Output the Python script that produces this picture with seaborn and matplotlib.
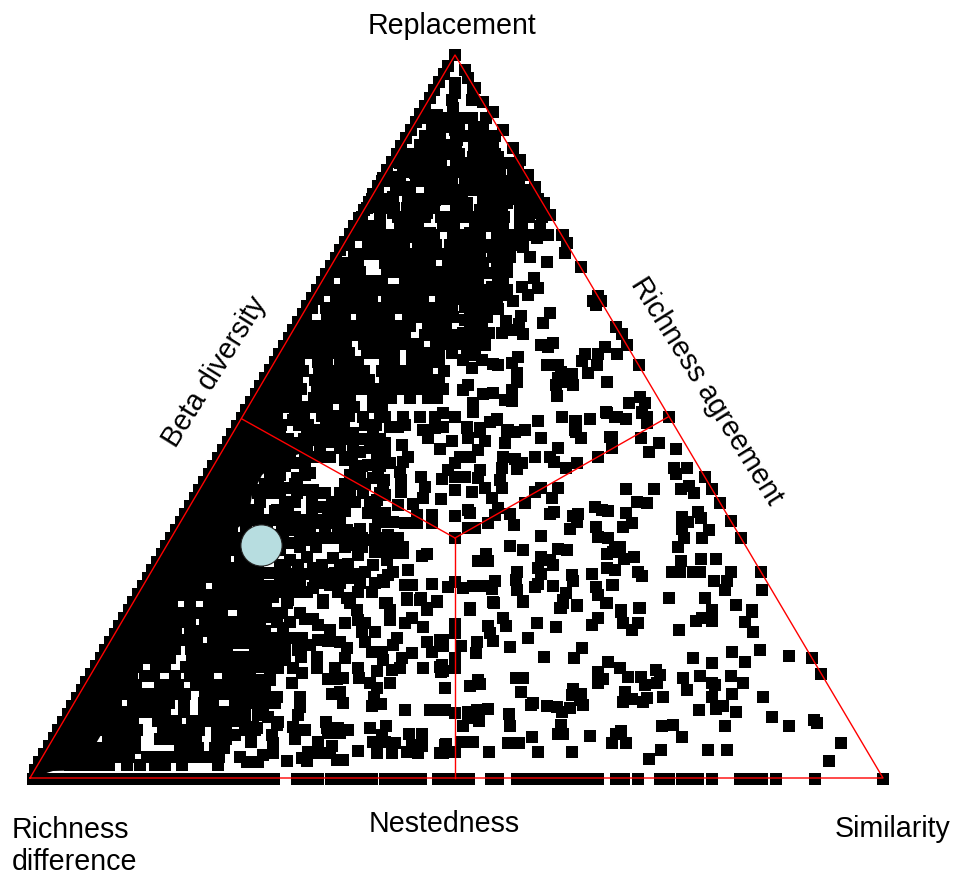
# ternary plot of beta diversity components
import numpy as np
import pandas as pd
import matplotlib
matplotlib.use('Agg')
import matplotlib.pyplot as plt
import seaborn as sns

# triangle outline and the three dividers, in picture units
outline_x = [30, 883, 455, 30]
outline_y = [778, 778, 55, 778]
centre = (455, 538)
edge_mid_x = [242, 668, 455]
edge_mid_y = [419, 417, 778]

# the merged black part next to the left edge
wedge_x = [30, 53, 85, 95, 113, 125, 138, 150, 165, 182, 200, 215, 235, 248, 252, 262, 280, 312, 240]
wedge_y = [778, 771, 770, 745, 715, 690, 665, 640, 610, 590, 562, 545, 530, 520, 495, 475, 460, 450, 418]

# points sitting on the left edge
left_edge_y = [770, 762, 754, 746, 738, 730, 722, 714, 706, 698, 690, 682, 674, 666, 658, 650, 642, 634, 626, 618,
               610, 602, 594, 586, 578, 570, 562, 554, 546, 538, 530, 522, 514, 506, 498, 490, 482, 474, 466, 458,
               450, 442, 434, 426, 418, 410, 402, 394, 386, 378, 370, 362, 354, 346, 338, 330, 322, 314, 306, 298,
               290, 282, 274, 266, 258, 250, 242, 234, 226, 218, 210, 202, 194, 186, 178, 170, 162, 154, 146, 138,
               130, 122, 114, 106, 98, 90, 82, 74, 66, 55]
left_edge_x = [35, 39, 44, 49, 54, 58, 63, 68, 72, 77, 82, 86, 91, 96, 101, 105, 110, 115, 119, 124,
               129, 133, 138, 143, 148, 152, 157, 162, 166, 171, 176, 181, 185, 190, 195, 199, 204, 209, 213, 218,
               223, 228, 232, 237, 242, 246, 251, 256, 260, 265, 270, 275, 279, 284, 289, 293, 298, 303, 307, 312,
               317, 322, 326, 331, 336, 340, 345, 350, 354, 359, 364, 369, 373, 378, 383, 387, 392, 397, 401, 406,
               411, 416, 420, 425, 430, 434, 439, 444, 448, 455]

# points sitting on the bottom edge
bottom_x = [33, 42, 51, 60, 69, 78, 87, 96, 105, 114, 123, 132, 141, 150, 159, 168, 177, 186, 195, 204, 213, 220,
            232, 241, 250, 259, 268, 274, 297, 306, 318, 331, 340, 349, 358, 367, 372, 385, 394, 403, 412, 421,
            438, 447, 456, 465, 469, 491, 498, 517, 526, 535, 544, 553, 562, 571, 580, 589, 598, 616, 624, 638,
            660, 669, 682, 691, 698, 712, 740, 749, 758, 762, 776, 815, 883]

# dense parts, read row by row
top_rows_y = [118, 127, 136, 145, 154, 163, 172, 181, 190, 199, 208, 217, 226, 235]
top_rows_x = [
    [427, 436, 445, 454, 463, 472, 486],
    [432, 441, 450, 459, 474, 483],
    [425, 434, 456, 465, 474, 483, 495],
    [420, 429, 438, 447, 456, 474, 483, 492],
    [405, 414, 423, 432, 441, 450, 459, 477, 486, 495],
    [400, 409, 418, 432, 441, 456, 465, 474, 483, 492, 501, 510],
    [403, 416, 425, 434, 443, 455, 464, 473, 482, 491, 500, 518],
    [382, 391, 400, 416, 425, 434, 443, 452, 465, 474, 483, 492, 501, 510, 519],
    [378, 396, 405, 430, 439, 448, 457, 466, 481, 490, 499, 508, 517, 526],
    [372, 381, 390, 408, 417, 426, 435, 444, 453, 462, 484, 493, 502, 511, 520, 529, 538],
    [367, 385, 394, 407, 416, 425, 434, 456, 465, 484, 493, 502, 526, 535, 544],
    [362, 380, 398, 407, 416, 425, 441, 450, 459, 468, 477, 486, 495, 504, 520, 529, 542],
    [357, 366, 375, 400, 409, 418, 445, 454, 475, 484, 493, 502, 520, 540],
    [352, 361, 370, 379, 388, 397, 406, 425, 434, 453, 462, 471, 480, 498, 507, 516, 525, 534],
]
upper_rows_y = [245, 254, 263, 272, 281, 290, 299, 308, 317, 326, 335, 344, 353, 362, 371, 380, 389, 398, 407, 416, 425]
upper_rows_x = [
    [349, 368, 377, 386, 395, 404, 418, 427, 436, 450, 459, 468, 477, 486, 495, 504, 513],
    [354, 363, 372, 381, 390, 399, 408, 417, 426, 435, 444, 453, 462, 480, 499],
    [340, 349, 358, 385, 394, 403, 412, 421, 430, 448, 457, 474, 483, 498],
    [333, 342, 351, 360, 387, 396, 405, 414, 423, 432, 441, 450, 459, 468, 477, 497, 507],
    [328, 346, 355, 364, 373, 382, 405, 414, 423, 432, 441, 450, 459, 468, 478, 498],
    [322, 331, 340, 349, 358, 367, 376, 385, 394, 403, 412, 421, 430, 439, 448, 457, 465, 482, 498, 507],
    [318, 336, 345, 354, 363, 372, 387, 396, 405, 414, 423, 441, 450, 459, 470, 488, 497],
    [312, 326, 335, 344, 353, 362, 371, 380, 389, 398, 407, 416, 425, 434, 443, 452, 470, 487],
    [306, 327, 336, 345, 362, 371, 380, 389, 408, 417, 426, 435, 444, 453, 470, 478],
    [302, 311, 320, 329, 338, 347, 356, 365, 374, 383, 392, 401, 410, 428, 437, 446, 470, 478],
    [297, 306, 315, 324, 333, 342, 351, 360, 369, 378, 387, 396, 405, 425, 434, 443, 452, 470, 478],
    [292, 301, 310, 319, 328, 337, 346, 364, 373, 382, 391, 400, 409, 418, 436, 445, 454, 465, 474],
    [286, 295, 304, 313, 322, 331, 340, 349, 367, 376, 385, 394, 412, 421, 430, 439, 452],
    [281, 290, 299, 318, 327, 340, 349, 358, 385, 394, 412, 421, 430, 439],
    [276, 285, 294, 303, 319, 328, 337, 346, 355, 364, 382, 391, 400, 409, 418, 427, 444],
    [270, 279, 288, 297, 315, 324, 333, 342, 351, 360, 369, 385, 394, 403, 412, 421, 430, 439],
    [265, 274, 283, 292, 301, 317, 326, 335, 344, 353, 362, 371, 380, 389, 398, 407, 416, 425, 434, 443],
    [260, 269, 278, 287, 296, 314, 323, 332, 341, 350, 373, 382, 391, 410, 428, 437],
    [255, 264, 273, 282, 291, 300, 309, 318, 327, 345, 354, 373, 382],
    [250, 259, 268, 277, 295, 304, 322, 331, 340, 349, 380],
    [245, 254, 263, 272, 281, 299, 308, 326, 335, 344, 365, 376],
]
circle_rows_y = [430, 439, 448, 457, 466, 475, 484, 493, 502, 511, 520, 529, 538, 547, 565, 574, 583, 592]
circle_rows_x = [
    [262, 271, 280, 316, 325, 334, 343],
    [270, 279, 288, 304, 322, 342, 362, 371, 380],
    [275, 284, 293, 320, 340, 370, 380],
    [270, 280, 290, 305, 315, 322, 352, 385],
    [275, 285, 305, 355, 362, 380],
    [270, 280, 305, 350, 360, 378],
    [265, 270, 295, 345, 355, 365],
    [258, 280, 297, 316, 340, 350, 380],
    [260, 285, 295, 312, 332, 342, 355, 370],
    [258, 275, 288, 312, 328, 345, 375],
    [250, 270, 282, 292, 305, 322, 340, 378],
    [232, 246, 285, 310, 325, 338, 360, 375],
    [225, 234, 243, 283, 300, 315, 330, 345, 362, 380],
    [218, 228, 237, 300, 316, 345, 362, 378],
    [285, 298, 322, 340, 373],
    [280, 290, 305, 325, 345, 355],
    [280, 290, 322, 340, 360, 375],
    [280, 297, 307, 338, 358, 372],
]
lower_rows_y = [550, 559, 568, 577, 586, 595, 604, 613, 622, 631, 640, 649, 658, 667, 676, 685, 694, 703, 712, 721,
                730, 739, 748, 757, 765]
lower_rows_x = [
    [205, 214, 223, 232, 240],
    [198, 207, 216, 225, 240],
    [192, 201, 210, 219, 228, 237, 246],
    [186, 195, 204, 213, 222, 231, 240, 249, 258],
    [182, 191, 200, 218, 227, 236, 245, 254, 263, 272],
    [176, 185, 194, 203, 212, 221, 230, 239, 248, 257, 266],
    [172, 190, 209, 218, 227, 239, 248, 257, 266],
    [168, 177, 186, 195, 204, 213, 222, 252, 262, 272, 282, 300],
    [163, 172, 181, 190, 205, 214, 223, 232, 235, 245, 252, 290],
    [158, 167, 176, 190, 199, 208, 217, 226, 235, 245, 255, 265],
    [152, 161, 170, 179, 188, 197, 213, 222, 231, 255, 262],
    [148, 157, 166, 175, 191, 200, 209, 218, 227, 265, 275, 285],
    [143, 152, 161, 170, 192, 201, 210, 219, 228],
    [137, 156, 165, 186, 195, 204, 213, 222, 231, 245, 255, 262],
    [132, 145, 154, 175, 190, 199, 208, 228, 240, 250],
    [127, 136, 160, 169, 178, 196, 205, 214, 223, 232],
    [122, 131, 140, 149, 158, 167, 176, 185, 205, 214, 223, 232, 235, 245, 255, 265],
    [116, 133, 142, 151, 160, 169, 184, 204, 213, 235, 265, 275],
    [111, 120, 129, 138, 147, 156, 165, 184, 204, 213, 222, 231],
    [106, 115, 124, 133, 158, 167, 176, 192, 201, 210, 219, 228, 235],
    [101, 110, 119, 128, 137, 163, 172, 181, 190, 199, 217, 226, 245, 255],
    [108, 117, 126, 135, 160, 169, 178, 187, 196, 217, 226],
    [90, 99, 108, 117, 126, 135, 180, 189, 198, 215, 224],
    [84, 93, 102, 111, 120, 129, 147, 156, 165, 174, 183, 192, 201, 210, 219, 240],
    [70, 79, 88, 100, 109, 127, 140, 155, 165, 182, 218],
]

# single points
top_points = [(465, 70), (468, 78), (475, 88), (483, 102), (493, 112), (503, 130), (513, 148), (520, 160), (528, 175),
              (535, 187), (544, 203), (550, 215), (562, 235), (548, 235), (455, 83), (455, 93), (452, 100), (472, 100),
              (473, 90), (437, 115), (453, 108), (437, 127), (475, 128), (482, 135), (440, 135), (455, 130), (457, 140),
              (475, 140), (493, 147), (422, 147), (428, 140), (407, 160), (422, 157), (440, 153), (457, 157), (473, 157),
              (487, 167), (498, 157), (430, 168), (415, 173), (400, 183), (397, 177), (440, 173), (460, 170), (473, 170),
              (483, 177), (500, 177), (513, 173), (517, 187), (500, 190), (483, 200), (472, 190), (383, 180), (410, 187),
              (433, 180), (447, 175), (465, 177), (393, 197), (408, 203), (420, 207), (435, 200), (453, 197), (467, 203),
              (480, 210), (493, 200), (507, 203), (527, 197), (527, 210), (377, 207), (393, 213), (380, 223), (400, 227),
              (413, 223), (427, 213), (443, 223), (455, 217), (467, 213), (487, 217), (503, 225), (520, 207), (522, 223),
              (540, 213), (547, 235), (367, 227), (413, 237), (453, 233), (470, 233), (497, 235), (517, 237), (430, 233),
              (370, 237)]
upper_right_points = [(548, 235), (563, 235), (567, 243), (565, 253), (547, 262), (581, 267), (534, 278), (522, 287),
                      (538, 288), (528, 295), (598, 296), (593, 301), (601, 301), (596, 305), (550, 313), (543, 323),
                      (521, 316), (506, 321), (519, 324), (616, 327), (622, 334), (502, 333), (513, 330), (523, 334),
                      (489, 333), (485, 345), (541, 345), (548, 347), (553, 343), (627, 345), (605, 347), (598, 354),
                      (617, 354), (585, 354), (582, 361), (597, 365), (639, 365), (588, 373), (518, 357), (512, 363),
                      (493, 364), (498, 365), (547, 365), (558, 365), (561, 372), (517, 373), (572, 374), (558, 378),
                      (566, 382), (573, 385), (556, 385), (607, 382), (517, 382), (512, 390), (557, 396), (505, 400),
                      (512, 401), (493, 393), (483, 394), (473, 403), (473, 411), (468, 385), (463, 390), (640, 397),
                      (645, 403), (629, 403), (642, 412), (606, 412), (615, 417), (626, 419), (647, 417), (647, 422),
                      (669, 417), (562, 417), (590, 419), (575, 421), (538, 421), (497, 420), (490, 422), (575, 430),
                      (525, 430), (508, 430), (480, 428), (467, 427), (473, 253), (490, 247), (510, 257), (507, 265),
                      (493, 257), (480, 240), (503, 240), (523, 240), (530, 257), (523, 247), (537, 238), (465, 263),
                      (472, 278), (490, 273), (492, 287), (503, 283), (503, 295), (513, 301), (480, 300), (498, 309),
                      (487, 317), (465, 290), (465, 307), (465, 320), (482, 327), (463, 333), (473, 290), (483, 273),
                      (497, 267), (477, 310), (467, 353), (475, 355), (482, 360), (472, 368), (463, 360)]
middle_points = [(385, 417), (403, 417), (405, 425), (390, 427), (398, 427), (420, 417), (435, 417), (443, 413), (455, 417),
                 (473, 412), (443, 427), (435, 428), (423, 430), (428, 438), (452, 441), (440, 449), (467, 428), (468, 438),
                 (480, 432), (485, 441), (490, 422), (497, 419), (507, 432), (515, 432), (525, 430), (538, 421), (541, 438),
                 (562, 417), (576, 421), (590, 419), (607, 413), (576, 432), (581, 438), (610, 437), (612, 448), (558, 448),
                 (505, 443), (478, 450), (470, 457), (460, 457), (455, 463), (503, 457), (502, 468), (515, 459), (522, 463),
                 (517, 469), (535, 457), (550, 457), (554, 462), (566, 468), (577, 463), (598, 457), (402, 445), (408, 457),
                 (403, 462), (390, 463), (400, 472), (385, 446), (401, 480), (384, 480), (421, 477), (442, 479), (448, 470),
                 (455, 477), (465, 477), (480, 470), (478, 478), (500, 480), (502, 488), (485, 488), (492, 498), (455, 490),
                 (472, 492), (425, 487), (423, 498), (413, 504), (401, 492), (441, 499), (398, 505), (385, 495), (558, 488),
                 (541, 488), (535, 492), (552, 498), (525, 503), (498, 508), (495, 515), (488, 523), (510, 514), (514, 525),
                 (550, 514), (554, 512), (578, 514), (573, 516), (577, 522), (595, 507), (602, 510), (608, 511), (570, 529),
                 (596, 527), (598, 537), (608, 538), (468, 510), (470, 513), (455, 516), (432, 515), (432, 523), (417, 515),
                 (417, 523), (405, 523), (393, 522), (385, 513), (385, 522), (468, 528), (475, 528), (455, 538), (388, 535),
                 (398, 538), (403, 547), (392, 545), (385, 550), (395, 553), (403, 553), (387, 560), (422, 556), (427, 554),
                 (541, 536), (510, 546), (523, 550), (558, 549), (567, 550), (486, 554), (478, 561), (488, 561), (541, 557),
                 (550, 560), (553, 565), (538, 568), (541, 574), (517, 572), (592, 574), (572, 575), (573, 581), (607, 554),
                 (615, 548), (607, 568), (615, 570), (408, 570), (393, 572), (388, 575), (384, 582), (405, 585), (412, 585),
                 (432, 584), (455, 582), (448, 587), (463, 588), (473, 586), (485, 586), (495, 581), (492, 589), (516, 580),
                 (517, 590), (538, 584), (535, 587), (553, 586), (612, 585), (596, 587), (598, 595), (607, 603), (566, 593),
                 (563, 600), (577, 605), (560, 608), (407, 598), (421, 598), (437, 601), (493, 602), (523, 601), (387, 603),
                 (427, 608), (470, 608)]
right_points = [(617, 417), (626, 419), (642, 413), (647, 417), (647, 423), (669, 417), (612, 437), (641, 438), (659, 443),
                (649, 452), (676, 449), (674, 468), (676, 474), (687, 468), (705, 477), (626, 489), (654, 489), (681, 489),
                (689, 486), (694, 493), (712, 489), (720, 503), (637, 502), (647, 503), (626, 513), (698, 512), (701, 518),
                (682, 517), (688, 522), (731, 521), (632, 523), (623, 527), (682, 529), (709, 530), (684, 538), (702, 538),
                (741, 538), (678, 547), (620, 547), (613, 552), (634, 557), (624, 559), (681, 561), (701, 559), (716, 559),
                (615, 570), (638, 572), (642, 576), (672, 572), (680, 572), (693, 572), (700, 572), (731, 572), (761, 572),
                (714, 581), (727, 581), (613, 585), (725, 590), (762, 590), (669, 598), (705, 598), (736, 605), (640, 608),
                (712, 610), (752, 610), (621, 610)]
lower_middle_points = [(470, 610), (494, 603), (523, 602), (563, 603), (561, 608), (577, 606), (606, 603), (621, 612),
                       (639, 608), (455, 624), (455, 633), (503, 618), (506, 626), (488, 626), (490, 633), (493, 641),
                       (537, 623), (556, 627), (598, 618), (592, 625), (623, 623), (638, 623), (632, 630), (528, 638),
                       (477, 642), (461, 646), (443, 640), (443, 646), (510, 647), (476, 653), (582, 648), (544, 657),
                       (574, 658), (455, 658), (455, 668), (442, 665), (443, 671), (608, 662), (620, 668), (598, 672),
                       (603, 679), (598, 683), (628, 677), (641, 677), (645, 685), (656, 670), (657, 683), (516, 678),
                       (523, 678), (478, 680), (480, 684), (470, 686), (445, 688), (521, 692), (573, 689), (572, 695),
                       (581, 694), (625, 692), (623, 702), (632, 699), (647, 698), (643, 702), (533, 703), (531, 705),
                       (547, 706), (557, 707), (562, 712), (570, 708), (583, 705), (580, 700), (445, 710), (455, 713),
                       (468, 712), (477, 710), (488, 709), (509, 714), (468, 718), (479, 721), (463, 726), (510, 726),
                       (561, 725), (558, 734), (563, 734), (621, 731), (616, 734), (590, 736), (532, 737), (446, 744),
                       (462, 742), (473, 742), (508, 743), (519, 743), (612, 743), (626, 743), (443, 753), (455, 752),
                       (489, 752), (538, 752), (572, 752), (649, 759)]
lower_right_points = [(712, 610), (736, 605), (752, 612), (702, 618), (696, 621), (712, 621), (745, 622), (679, 630),
                      (753, 632), (732, 652), (760, 650), (789, 656), (812, 658), (693, 658), (712, 663), (745, 662),
                      (821, 674), (660, 675), (683, 678), (700, 676), (731, 676), (712, 683), (715, 685), (743, 683),
                      (687, 690), (732, 694), (712, 697), (763, 697), (663, 697), (723, 706), (716, 709), (699, 710),
                      (736, 712), (772, 717), (814, 720), (817, 723), (789, 726), (662, 726), (673, 725), (725, 726),
                      (682, 737), (841, 743), (661, 750), (708, 750), (727, 750), (829, 761)]
circle_area_points = [(363, 417), (373, 427), (353, 433), (332, 442), (353, 445), (360, 452), (330, 457), (345, 460),
                      (368, 465), (377, 457), (388, 463), (385, 443), (373, 478), (383, 483), (348, 500), (363, 493),
                      (377, 500), (368, 513), (383, 513), (333, 523), (347, 530), (317, 523), (303, 527), (295, 517),
                      (277, 510), (272, 493), (288, 488), (307, 490), (313, 490), (325, 493), (323, 507), (337, 510),
                      (312, 513), (293, 530), (290, 543), (307, 540), (323, 538), (338, 538), (353, 533), (370, 540),
                      (353, 545), (375, 552), (388, 537), (385, 550), (383, 580), (358, 555), (348, 564), (333, 558),
                      (365, 572), (352, 578), (335, 573), (330, 585), (347, 598), (323, 600), (385, 603), (315, 577),
                      (297, 575), (313, 568), (313, 588), (300, 585), (287, 590), (270, 573), (290, 560), (307, 557),
                      (273, 597), (260, 600), (288, 600), (297, 443), (307, 430), (293, 420), (313, 440), (287, 453),
                      (307, 450), (297, 463), (277, 467), (310, 473), (297, 478), (278, 482), (260, 490), (267, 527),
                      (282, 523), (250, 510), (262, 520), (275, 535), (280, 550), (280, 565), (258, 570), (245, 560)]
lower_left_points = [(243, 605), (243, 617), (265, 605), (287, 603), (323, 603), (350, 603), (387, 603), (407, 600),
                     (420, 600), (437, 602), (427, 610), (357, 610), (390, 610), (390, 620), (305, 619), (313, 619),
                     (318, 625), (345, 623), (358, 620), (365, 623), (405, 623), (412, 618), (423, 627), (362, 632),
                     (375, 632), (330, 630), (277, 622), (260, 622), (267, 617), (283, 628), (272, 638), (278, 638),
                     (290, 638), (302, 638), (318, 640), (328, 641), (340, 642), (365, 642), (397, 638), (393, 645),
                     (427, 642), (440, 640), (432, 652), (442, 645), (298, 650), (310, 645), (347, 648), (372, 652),
                     (382, 652), (412, 653), (402, 658), (301, 657), (317, 657), (345, 658), (383, 660), (317, 668),
                     (335, 668), (358, 668), (377, 671), (392, 670), (400, 668), (423, 668), (440, 667), (441, 672),
                     (293, 668), (302, 673), (328, 679), (337, 679), (343, 678), (359, 678), (292, 683), (370, 683),
                     (390, 683), (377, 688), (445, 688), (332, 694), (340, 692), (374, 697), (300, 697), (343, 703),
                     (372, 706), (381, 704), (300, 707), (405, 710), (430, 710), (438, 710), (445, 710), (298, 715),
                     (278, 722), (326, 722), (293, 727), (305, 730), (327, 728), (338, 728), (348, 730), (370, 728),
                     (386, 726), (277, 725), (328, 733), (340, 733), (382, 735), (409, 734), (422, 734), (272, 735),
                     (295, 739), (235, 735), (318, 742), (251, 742), (273, 743), (332, 746), (373, 742), (385, 742),
                     (395, 743), (412, 745), (422, 746), (445, 745), (308, 752), (358, 751), (377, 753), (392, 753),
                     (407, 752), (418, 753), (440, 753), (273, 753), (263, 755), (302, 758), (318, 753), (330, 753),
                     (337, 760), (343, 760), (307, 761), (287, 761), (247, 762), (258, 762), (235, 633), (245, 633),
                     (235, 643), (245, 643), (255, 647), (235, 657), (245, 657), (255, 657), (265, 657), (275, 657),
                     (285, 660), (235, 668), (270, 668), (278, 668), (237, 680), (260, 680), (270, 680), (235, 688),
                     (245, 688), (255, 688), (265, 688), (277, 697), (242, 703), (253, 703), (235, 715), (245, 715),
                     (263, 715), (253, 727), (247, 727), (257, 728), (268, 717), (258, 715)]
highlight_x = [261]
highlight_y = [545]

rows_x, rows_y = [], []
for ys, xs in [(top_rows_y, top_rows_x), (upper_rows_y, upper_rows_x),
               (circle_rows_y, circle_rows_x), (lower_rows_y, lower_rows_x)]:
    for y, row in zip(ys, xs):
        rows_x += row
        rows_y += [y] * len(row)

singles = (top_points + upper_right_points + middle_points + right_points
           + lower_middle_points + lower_right_points + circle_area_points + lower_left_points)
single_x, single_y = zip(*singles)

df = pd.DataFrame({
    'x': list(left_edge_x) + bottom_x + rows_x + list(single_x),
    'y': list(left_edge_y) + [779] * len(bottom_x) + rows_y + list(single_y),
})

fig = plt.figure(figsize=(9.55, 8.77), dpi=100)
ax = fig.add_axes([0, 0, 1, 1])

ax.fill(wedge_x, wedge_y, color='black', lw=0, zorder=1)
sns.scatterplot(data=df, x='x', y='y', marker='s', color='black', s=64, linewidth=0, ax=ax, zorder=2)

# red frame on top of the points
ax.plot(outline_x, outline_y, color='#ff0000', lw=1.0, zorder=3)
for mx, my in zip(edge_mid_x, edge_mid_y):
    ax.plot([mx, centre[0]], [my, centre[1]], color='#ff0000', lw=1.0, zorder=3)

sns.scatterplot(x=highlight_x, y=highlight_y, marker='o', color='#b7dde0', edgecolor='#222222',
                s=880, linewidth=0.8, ax=ax, zorder=4)

ax.set_xlim(0, 955)
ax.set_ylim(877, 0)
ax.axis('off')

font = ['Liberation Sans', 'DejaVu Sans']
ax.text(452, 26, 'Replacement', fontsize=20.6, family=font, ha='center', va='center')
ax.text(444, 824, 'Nestedness', fontsize=20.6, family=font, ha='center', va='center')
ax.text(893, 829, 'Similarity', fontsize=20.6, family=font, ha='center', va='center')
ax.text(12, 830, 'Richness', fontsize=20.6, family=font, ha='left', va='center')
ax.text(12, 862, 'difference', fontsize=20.6, family=font, ha='left', va='center')
ax.text(215, 372, 'Beta diversity', fontsize=20.6, family=font, ha='center', va='center', rotation=58,
        rotation_mode='anchor')
ax.text(706, 391, 'Richness agreement', fontsize=20.6, family=font, ha='center', va='center', rotation=-58,
        rotation_mode='anchor')

fig.savefig('out.png', dpi=100)
